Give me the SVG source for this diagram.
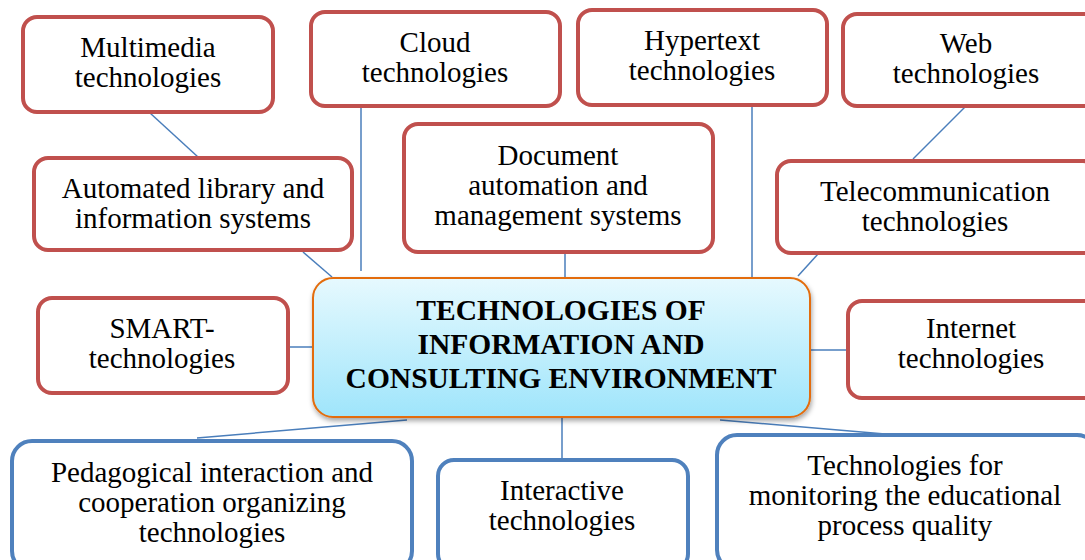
<svg xmlns="http://www.w3.org/2000/svg" width="1085" height="560" viewBox="0 0 1085 560">
<defs>
<linearGradient id="cg" x1="0" y1="0" x2="0" y2="1">
<stop offset="0" stop-color="#e6f9fe"/>
<stop offset="1" stop-color="#9fe5fb"/>
</linearGradient>
<filter id="sh" x="-5%" y="-10%" width="110%" height="130%">
<feDropShadow dx="1" dy="3" stdDeviation="2.5" flood-color="#000" flood-opacity="0.35"/>
</filter>
</defs>
<style>
.r{fill:#fff;stroke:#c0504d;stroke-width:4}
.b{fill:#fff;stroke:#4f81bd;stroke-width:4}
.t{font-family:"Liberation Serif","Times New Roman",serif;font-size:29px;fill:#000;text-anchor:middle}
.c{font-family:"Liberation Serif","Times New Roman",serif;font-size:29.5px;font-weight:bold;fill:#000;text-anchor:middle}
.l{stroke:#4a7ebb;stroke-width:1.5;fill:none}
</style>
<g id="connectors">
<line class="l" x1="150" y1="113" x2="198" y2="157"/>
<line class="l" x1="361" y1="107" x2="361" y2="271"/>
<line class="l" x1="303" y1="252" x2="332" y2="277"/>
<line class="l" x1="565" y1="253" x2="565" y2="277"/>
<line class="l" x1="752" y1="106" x2="752" y2="280"/>
<line class="l" x1="965" y1="107" x2="913" y2="159"/>
<line class="l" x1="818" y1="254" x2="798" y2="276"/>
<line class="l" x1="289" y1="347" x2="313" y2="347"/>
<line class="l" x1="810" y1="350" x2="847" y2="350"/>
<line class="l" x1="407" y1="420" x2="197" y2="438"/>
<line class="l" x1="562" y1="418" x2="562" y2="459"/>
<line class="l" x1="720" y1="420" x2="885" y2="434"/>
</g>
<g id="multimedia"><rect class="r" x="23" y="17" width="250" height="95" rx="14"/><text class="t" x="148" y="57">Multimedia</text><text class="t" x="148" y="87">technologies</text></g>
<g id="cloud"><rect class="r" x="311" y="12" width="249" height="94" rx="14"/><text class="t" x="435" y="52">Cloud</text><text class="t" x="435" y="82">technologies</text></g>
<g id="hypertext"><rect class="r" x="578" y="10" width="249" height="95" rx="14"/><text class="t" x="702" y="50">Hypertext</text><text class="t" x="702" y="80">technologies</text></g>
<g id="web"><rect class="r" x="843" y="14" width="260" height="92" rx="14"/><text class="t" x="966" y="53">Web</text><text class="t" x="966" y="83">technologies</text></g>
<g id="automated"><rect class="r" x="34" y="158" width="318" height="92" rx="14"/><text class="t" x="193" y="198">Automated library and</text><text class="t" x="193" y="228">information systems</text></g>
<g id="document"><rect class="r" x="404" y="124" width="309" height="128" rx="14"/><text class="t" x="558" y="165">Document</text><text class="t" x="558" y="195">automation and</text><text class="t" x="558" y="225">management systems</text></g>
<g id="telecom"><rect class="r" x="777" y="161" width="320" height="92" rx="14"/><text class="t" x="935" y="201">Telecommunication</text><text class="t" x="935" y="231">technologies</text></g>
<g id="smart"><rect class="r" x="38" y="298" width="250" height="95" rx="14"/><text class="t" x="162" y="338">SMART-</text><text class="t" x="162" y="368">technologies</text></g>
<g id="internet"><rect class="r" x="848" y="301" width="250" height="97" rx="14"/><text class="t" x="971" y="338">Internet</text><text class="t" x="971" y="368">technologies</text></g>
<g id="center"><rect x="313" y="278" width="497" height="139" rx="20" fill="url(#cg)" stroke="#e36c0a" stroke-width="2" filter="url(#sh)"/><text class="c" x="561" y="320">TECHNOLOGIES OF</text><text class="c" x="561" y="354">INFORMATION AND</text><text class="c" x="561" y="388">CONSULTING ENVIRONMENT</text></g>
<g id="pedagogical"><rect class="b" x="12" y="441" width="400" height="130" rx="20"/><text class="t" x="212" y="482">Pedagogical interaction and</text><text class="t" x="212" y="512">cooperation organizing</text><text class="t" x="212" y="542">technologies</text></g>
<g id="interactive"><rect class="b" x="438" y="460" width="250" height="110" rx="16"/><text class="t" x="562" y="500">Interactive</text><text class="t" x="562" y="530">technologies</text></g>
<g id="monitoring"><rect class="b" x="717" y="435" width="380" height="135" rx="20"/><text class="t" x="905" y="475">Technologies for</text><text class="t" x="905" y="505">monitoring the educational</text><text class="t" x="905" y="535">process quality</text></g>
</svg>
